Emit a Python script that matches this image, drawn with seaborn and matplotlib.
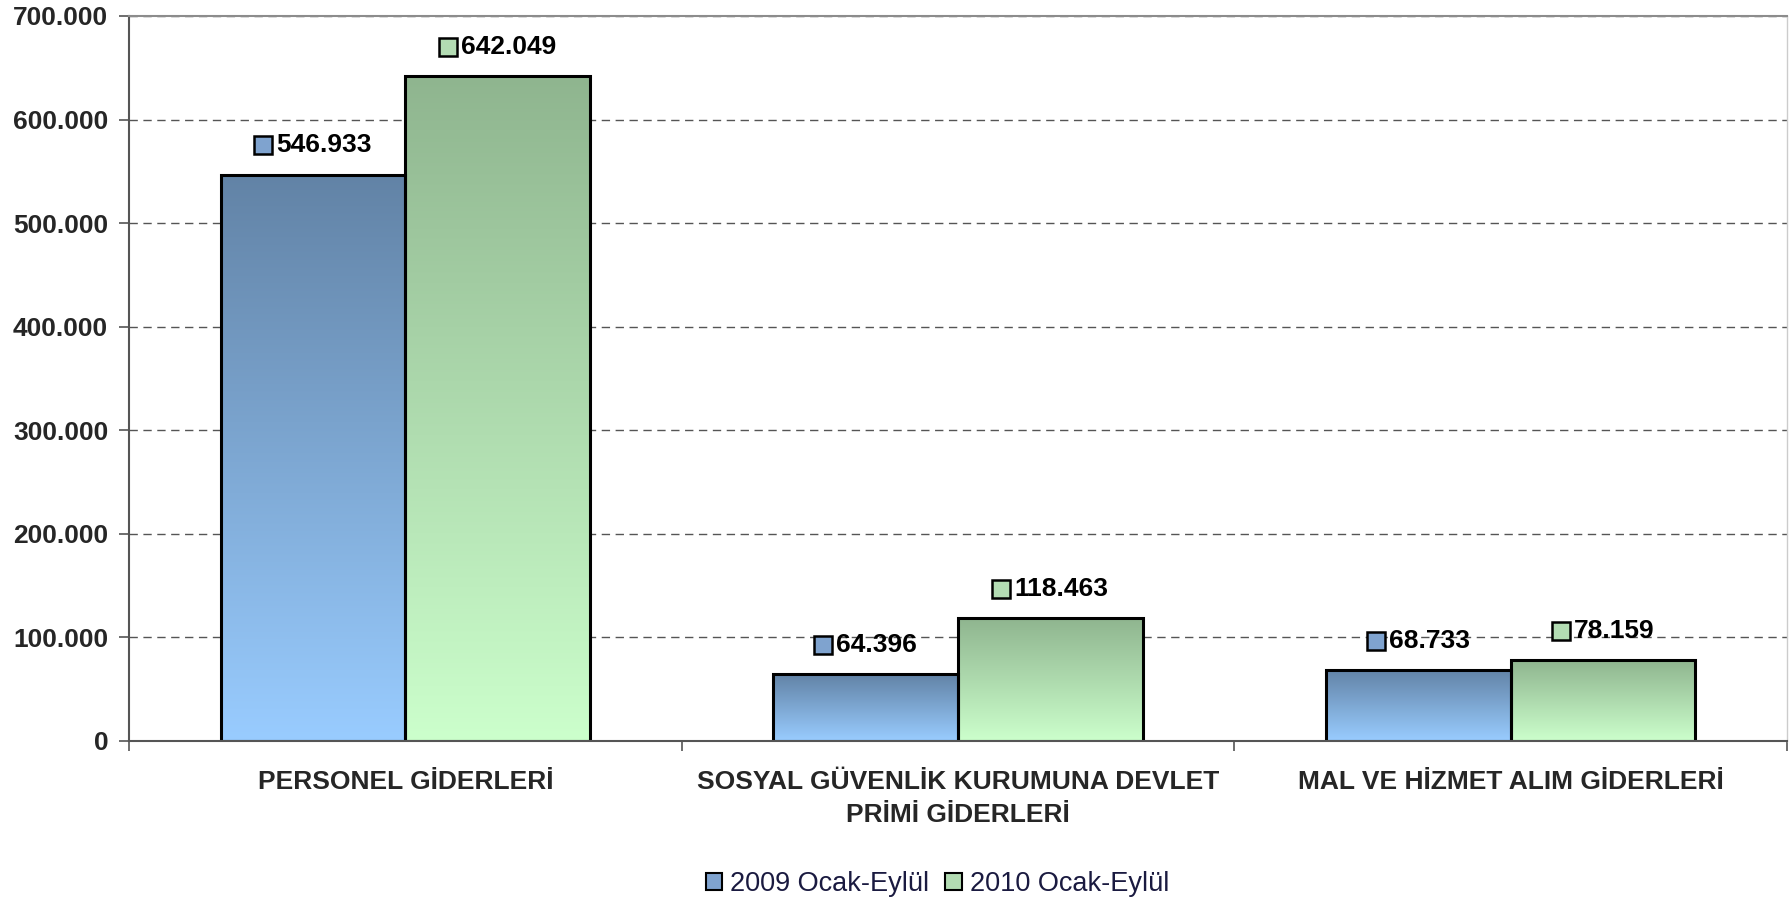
import numpy as np
import pandas as pd
import seaborn as sns
import matplotlib.pyplot as plt
from matplotlib.colors import LinearSegmentedColormap
from matplotlib.patches import Rectangle
from matplotlib.offsetbox import AnnotationBbox, DrawingArea, TextArea, HPacker
from matplotlib.ticker import FuncFormatter, FixedLocator

# ---------------- Data ----------------
categories = ["PERSONEL GİDERLERİ",
              "SOSYAL GÜVENLİK KURUMUNA DEVLET\nPRİMİ GİDERLERİ",
              "MAL VE HİZMET ALIM GİDERLERİ"]
periods = ["2009 Ocak-Eylül", "2010 Ocak-Eylül"]
values_2009 = [546933, 64396, 68733]
values_2010 = [642049, 118463, 78159]
value_labels_2009 = ["546.933", "64.396", "68.733"]
value_labels_2010 = ["642.049", "118.463", "78.159"]

df = pd.DataFrame({
    "kalem": categories * 2,
    "donem": [periods[0]] * 3 + [periods[1]] * 3,
    "deger": values_2009 + values_2010,
})

# gradient ends (top, bottom) per series
grad_top = ["#6283a6", "#8fb58f"]
grad_bottom = ["#99ccff", "#ccffcc"]
legend_colors = ["#7fa3cf", "#b3dcb3"]

# ---------------- Style ----------------
sns.set_style("white")
plt.rcParams['font.family'] = ['Liberation Sans', 'DejaVu Sans']

fig = plt.figure(figsize=(17.89, 9.02), dpi=100)
ax = fig.add_axes([0.0721, 0.1785, 0.9268, 0.8038])

sns.barplot(data=df, x="kalem", y="deger", hue="donem", palette=legend_colors,
            width=0.668, edgecolor="black", linewidth=2.2, legend=False, ax=ax)

ax.set_xlim(-0.5, 2.5)
ax.set_ylim(0, 700000)

# ---------------- Gradient fill for bars ----------------
labels_all = [value_labels_2009, value_labels_2010]
for i, cont in enumerate(ax.containers):
    cmap = LinearSegmentedColormap.from_list(f"g{i}", [grad_bottom[i], grad_top[i]])
    grad = np.linspace(0, 1, 256).reshape(-1, 1)
    for j, bar in enumerate(cont.patches):
        x0, y0 = bar.get_x(), bar.get_y()
        w, h = bar.get_width(), bar.get_height()
        img = ax.imshow(grad, cmap=cmap, origin="lower", aspect="auto",
                        extent=[x0, x0 + w, y0, y0 + h], zorder=1.5)
        img.set_clip_path(bar)
        bar.set_facecolor("none")
        bar.set_zorder(2)

        # data label: small square + number
        da = DrawingArea(13, 13, 0, 0)
        da.add_artist(Rectangle((0, 0), 13, 13, facecolor=legend_colors[i],
                                edgecolor="black", linewidth=1.8))
        ta = TextArea(labels_all[i][j], textprops=dict(fontsize=19, fontweight="bold",
                                                       color="black"))
        pack = HPacker(children=[da, ta], align="center", pad=0, sep=3)
        ab = AnnotationBbox(pack, (x0 + w / 2, y0 + h), xybox=(0, 21),
                            xycoords="data", boxcoords="offset points",
                            frameon=False, box_alignment=(0.5, 0.5), zorder=3)
        ax.add_artist(ab)

ax.set_xlim(-0.5, 2.5)
ax.set_ylim(0, 700000)

# ---------------- Axes ----------------
ax.set_axisbelow(True)
ax.yaxis.set_major_locator(FixedLocator(np.arange(0, 700001, 100000)))
ax.yaxis.set_major_formatter(FuncFormatter(lambda v, p: f"{v:,.0f}".replace(",", ".")))
ax.yaxis.grid(True, linestyle=(0, (6, 4)), color="#555555", linewidth=1.0)
ax.xaxis.grid(False)

ax.set_xlabel("")
ax.set_ylabel("")
ax.tick_params(axis="y", which="major", direction="out", length=7, width=1.2,
               color="#555555", labelsize=19, pad=8, left=True)
for t in ax.get_yticklabels():
    t.set_fontweight("bold")

ax.set_xticks(range(len(categories)))
ax.set_xticklabels(categories, fontsize=19, fontweight="bold", linespacing=1.45)
ax.tick_params(axis="x", which="major", length=0, pad=21)
ax.set_xticks([-0.5, 0.5, 1.5, 2.5], minor=True)
ax.tick_params(axis="x", which="minor", direction="out", length=7, width=1.2,
               color="#555555", bottom=True)

for side in ["left", "bottom"]:
    ax.spines[side].set_color("#555555")
    ax.spines[side].set_linewidth(1.5)
ax.spines["top"].set_color("#8c8c8c")
ax.spines["top"].set_linewidth(1.5)
ax.spines["right"].set_color("#cccccc")
ax.spines["right"].set_linewidth(1.0)

# ---------------- Legend ----------------
handles = [Rectangle((0, 0), 1, 1, facecolor=c, edgecolor="black", linewidth=1.5)
           for c in legend_colors]
fig.legend(handles, periods, loc="center", bbox_to_anchor=(0.524, 0.02), ncol=2,
           frameon=False, fontsize=19.5, handlelength=0.6, handleheight=0.6,
           handletextpad=0.3, columnspacing=0.6, borderpad=0,
           labelcolor="#1a1a40")

fig.savefig("out.png", dpi=100)
